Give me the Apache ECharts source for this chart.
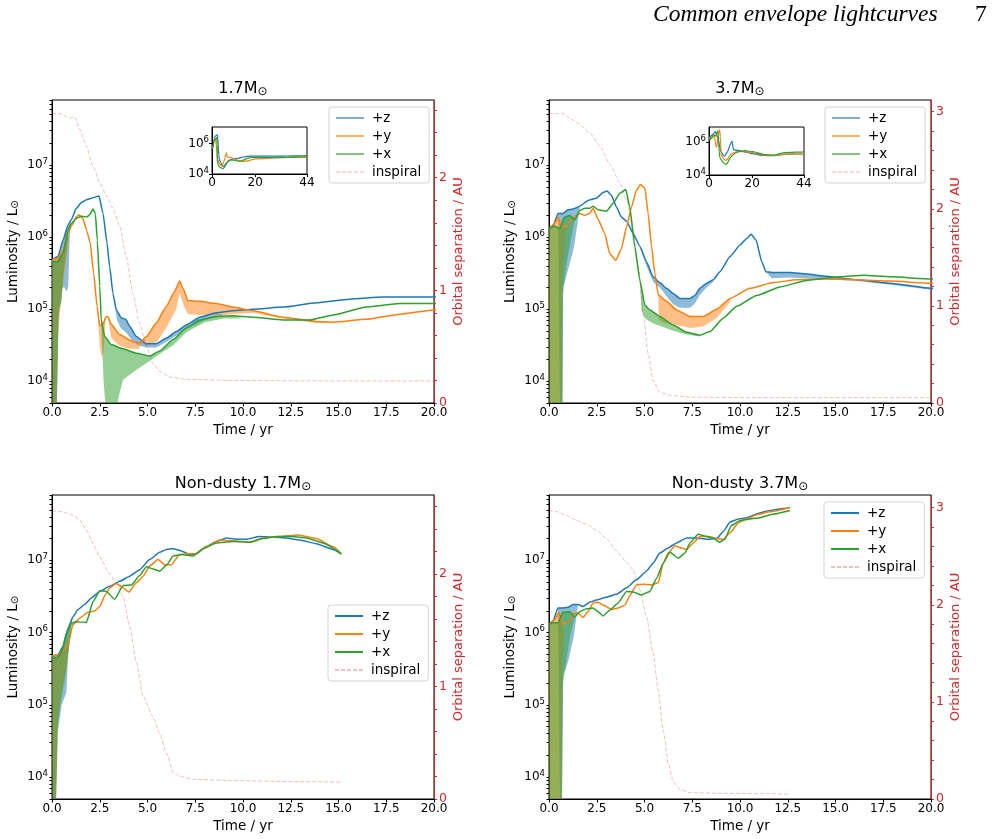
<!DOCTYPE html>
<html>
<head>
<meta charset="utf-8">
<title>Common envelope lightcurves</title>
<script src="https://cdn.jsdelivr.net/npm/echarts@6/dist/echarts.min.js"></script>
<style>body{margin:0;background:#fff;}</style>
</head>
<body>
<div id="main" style="width:993px;height:839px;"></div>
<script>
// all luminosity values are log10(L / Lsun), pairs are [time in yr, value]
// ---- dusty 1.7 Msun ----
var tlZ = [[0,5.685],[0.31,5.73],[0.58,5.96],[0.84,6.17],[1.01,6.24],[1.27,6.40],[1.54,6.48],[1.8,6.52],[2.06,6.54],[2.46,6.57],[2.67,6.33],[2.88,5.92],[3.02,5.59],[3.19,5.22],[3.37,4.99],[3.63,4.88],[3.86,4.86],[4.07,4.76],[4.42,4.62],[4.94,4.52],[5.46,4.52],[5.99,4.60],[6.51,4.69],[7.03,4.78],[7.73,4.89],[8.6,4.95],[9.48,4.98],[10.52,5.00],[12.09,5.03],[13.84,5.09],[15.58,5.14],[17.33,5.17],[20,5.17],[25,5.17],[30,5.17],[35,5.18],[40,5.19],[44,5.2]];
var tlY = [[0,5.685],[0.31,5.71],[0.58,5.82],[0.84,6.05],[1.01,6.15],[1.27,6.28],[1.41,6.31],[1.62,6.26],[1.83,6.08],[2.0,5.92],[2.18,5.50],[2.36,5.04],[2.5,4.77],[2.67,4.79],[2.81,4.89],[2.93,4.90],[3.1,4.79],[3.54,4.65],[4.24,4.55],[4.59,4.53],[4.94,4.62],[5.46,4.81],[5.99,5.04],[6.42,5.25],[6.68,5.39],[6.86,5.29],[7.12,5.12],[7.73,5.11],[8.6,5.08],[9.48,5.03],[10.52,4.98],[12.09,4.89],[13.84,4.83],[14.71,4.82],[16.46,4.86],[18.2,4.93],[20,4.99],[25,5.03],[30,5.05],[35,5.08],[40,5.1],[44,5.12]];
var tlX = [[0,5.66],[0.31,5.66],[0.58,5.78],[0.84,6.10],[1.01,6.19],[1.27,6.26],[1.54,6.29],[1.83,6.28],[1.97,6.31],[2.15,6.39],[2.27,6.33],[2.37,5.96],[2.5,5.32],[2.58,4.85],[2.76,4.62],[3.1,4.51],[3.72,4.45],[4.42,4.39],[5.11,4.35],[5.64,4.42],[6.34,4.58],[7.03,4.74],[7.73,4.85],[8.6,4.90],[9.48,4.91],[10.52,4.89],[12.09,4.85],[13.5,4.85],[14.71,4.92],[16.46,5.03],[18.2,5.08],[20,5.08],[25,5.08],[30,5.08],[35,5.1],[40,5.11],[44,5.12]];
// lower edges of the viewing-angle bands (upper edge is the curve itself)
var tlZlow = [[[0,5.685],[0.03,3.0],[0.2,3.0],[0.35,4.9],[0.55,5.3],[0.66,5.3],[0.75,5.25],[0.85,5.3],[0.95,6.2]],
              [[3.19,5.22],[3.4,4.85],[3.6,4.74],[3.9,4.67],[4.2,4.56],[4.5,4.50],[4.94,4.47],[5.46,4.47],[6.0,4.55],[7.0,4.72],[8.0,4.85],[9.0,4.92]]];
var tlYlow = [[[0,5.685],[0.03,3.0],[0.18,3.0],[0.3,4.6],[0.5,5.2],[0.7,5.6],[0.9,6.0]],
              [[2.36,5.04],[2.5,4.5],[2.6,4.33],[2.7,4.4],[2.81,4.89]],
              [[2.93,4.90],[3.1,4.6],[3.5,4.5],[4.0,4.45],[4.59,4.45]],
              [[4.59,4.53],[5.0,4.5],[5.5,4.55],[6.0,4.75],[6.5,5.0],[6.68,5.22],[6.9,5.05],[7.12,4.93],[8.0,4.92],[9.0,4.92],[10.5,4.95],[12.1,4.87],[13.84,4.81],[14.71,4.81]]];
var tlXlow = [[[0,5.66],[0.03,3.0],[0.2,3.0],[0.35,5.0],[0.5,5.1],[0.6,5.5],[0.8,5.9],[0.9,6.1]],
              [[2.5,5.32],[2.7,4.0],[2.85,3.5],[3.3,3.5],[3.5,3.8],[3.72,4.02],[4.42,4.16],[5.11,4.28],[5.64,4.38],[6.34,4.5],[7.03,4.68],[8.0,4.82],[9.0,4.87],[10.0,4.87]]];
var tlSep = [[0,2.57],[0.4,2.57],[0.66,2.55],[0.92,2.53],[1.19,2.54],[1.45,2.43],[1.8,2.28],[2.15,2.10],[2.5,1.96],[2.85,1.84],[3.19,1.73],[3.54,1.57],[3.89,1.30],[4.24,0.97],[4.59,0.71],[4.94,0.50],[5.29,0.35],[5.64,0.28],[6.16,0.23],[7.03,0.21],[9.48,0.20],[14.7,0.196],[20,0.196]];

// ---- dusty 3.7 Msun ----
var trZ = [[0,6.12],[0.21,6.15],[0.47,6.33],[0.73,6.33],[1.0,6.38],[1.26,6.39],[1.61,6.43],[2.05,6.51],[2.48,6.54],[2.83,6.62],[3.04,6.64],[3.27,6.58],[3.53,6.42],[3.79,6.28],[4.06,6.22],[4.41,6.05],[4.76,5.87],[5.1,5.66],[5.45,5.45],[5.8,5.37],[6.15,5.29],[6.5,5.22],[6.85,5.15],[7.38,5.15],[7.64,5.19],[7.9,5.29],[8.25,5.36],[8.6,5.41],[8.95,5.52],[9.48,5.73],[10.0,5.89],[10.35,5.98],[10.58,6.04],[10.84,5.96],[11.14,5.66],[11.36,5.52],[11.66,5.51],[12.62,5.51],[13.5,5.49],[14.37,5.46],[16.12,5.41],[17.87,5.36],[20,5.29],[25,5.18],[30,5.17],[35,5.25],[40,5.27],[44,5.27]];
var trY = [[0,6.12],[0.3,6.19],[0.47,6.28],[0.65,6.15],[0.91,6.15],[1.17,6.24],[1.43,6.30],[1.61,6.33],[1.87,6.30],[2.13,6.33],[2.31,6.40],[2.57,6.25],[2.92,6.05],[3.18,5.77],[3.5,5.68],[3.79,5.84],[4.06,6.14],[4.32,6.42],[4.58,6.65],[4.79,6.73],[5.02,6.68],[5.19,6.33],[5.37,5.87],[5.54,5.50],[5.72,5.20],[6.15,5.11],[6.68,4.99],[7.38,4.90],[8.08,4.90],[8.78,5.00],[9.48,5.15],[10.52,5.29],[11.75,5.37],[12.97,5.41],[14.37,5.42],[16.12,5.41],[17.87,5.39],[20,5.36],[25,5.22],[30,5.19],[35,5.26],[40,5.28],[44,5.28]];
var trX = [[0,6.12],[0.3,6.15],[0.56,6.12],[0.82,6.28],[1.08,6.30],[1.35,6.24],[1.61,6.37],[1.87,6.40],[2.13,6.40],[2.31,6.43],[2.57,6.38],[3.01,6.36],[3.36,6.47],[3.71,6.61],[4.02,6.66],[4.23,6.42],[4.49,5.87],[4.76,5.40],[5.02,5.06],[5.28,4.99],[5.8,4.90],[6.5,4.78],[7.2,4.68],[7.9,4.64],[8.43,4.69],[9.13,4.88],[9.83,5.04],[10.87,5.19],[12.1,5.31],[13.5,5.40],[15.24,5.45],[16.47,5.47],[17.87,5.45],[20,5.42],[25,5.25],[30,5.2],[35,5.35],[40,5.38],[44,5.4]];
var trZlow = [[[0.47,6.33],[0.6,3.0],[0.7,3.0],[0.75,5.3],[1.0,5.55],[1.3,5.85],[1.61,6.4]],
              [[4.76,5.87],[5.1,5.6],[5.45,5.38],[5.8,5.3],[6.15,5.18],[6.5,5.07],[6.85,5.02],[7.38,5.02],[7.64,5.08],[7.9,5.2],[8.25,5.3],[8.6,5.38]],
              [[11.36,5.52],[11.66,5.43],[12.62,5.44],[14.37,5.42],[16.12,5.39],[17.87,5.34],[20,5.27]]];
var trYlow = [[[0,6.12],[0.02,3.0],[0.65,3.0],[0.7,5.5],[0.91,6.1]],
              [[5.72,5.20],[5.75,4.85],[6.15,4.80],[6.68,4.78],[7.38,4.74],[8.08,4.76],[8.78,4.88],[9.48,5.1]]];
var trXlow = [[[0,6.12],[0.02,3.0],[0.68,3.0],[0.72,5.2],[0.9,5.6],[1.1,5.9],[1.35,6.24]],
              [[4.76,5.40],[4.85,4.98],[5.02,4.87],[5.5,4.80],[6.5,4.7],[7.2,4.65],[7.9,4.62]]];
var trSep = [[0,2.98],[0.38,2.98],[0.73,2.98],[1.17,2.92],[1.61,2.87],[2.13,2.78],[2.66,2.65],[3.18,2.46],[3.71,2.27],[4.06,2.09],[4.41,1.78],[4.67,1.41],[4.93,0.92],[5.19,0.51],[5.45,0.23],[5.8,0.11],[6.33,0.08],[7.38,0.06],[10.87,0.055],[20,0.055]];

// ---- non-dusty 1.7 Msun ----
var blZ = [[0,5.68],[0.31,5.69],[0.58,5.81],[0.84,6.06],[1.1,6.22],[1.36,6.32],[1.71,6.39],[2.06,6.48],[2.5,6.57],[3.02,6.64],[3.54,6.71],[4.07,6.78],[4.59,6.87],[5.11,7.01],[5.64,7.11],[5.99,7.15],[6.34,7.16],[6.77,7.13],[7.21,7.08],[7.56,7.09],[8.08,7.19],[8.6,7.26],[9.13,7.31],[9.65,7.29],[10.17,7.29],[10.87,7.33],[11.57,7.32],[12.27,7.31],[12.97,7.28],[13.84,7.23],[14.71,7.15],[15.15,7.09]];
var blY = [[0,5.68],[0.31,5.69],[0.58,5.74],[0.84,5.85],[1.1,6.11],[1.45,6.20],[1.88,6.28],[2.23,6.30],[2.5,6.36],[2.76,6.51],[3.02,6.62],[3.37,6.68],[3.72,6.62],[4.03,6.56],[4.42,6.69],[4.77,6.78],[5.11,6.92],[5.55,7.01],[5.9,6.94],[6.25,6.94],[6.68,7.08],[7.12,7.09],[7.56,7.09],[8.08,7.19],[8.78,7.28],[9.48,7.27],[10.35,7.25],[11.05,7.31],[11.92,7.33],[12.88,7.35],[13.84,7.30],[14.71,7.19],[15.15,7.09]];
var blX = [[0,5.66],[0.23,5.65],[0.49,5.71],[0.75,5.99],[1.01,6.13],[1.27,6.15],[1.8,6.14],[2.15,6.43],[2.5,6.58],[2.85,6.57],[3.28,6.46],[3.72,6.65],[4.16,6.66],[4.59,6.79],[4.94,6.91],[5.29,6.88],[5.64,6.85],[5.99,6.93],[6.34,7.06],[6.77,7.08],[7.38,7.06],[7.9,7.16],[8.6,7.24],[9.48,7.26],[10.35,7.25],[11.05,7.30],[11.75,7.33],[12.62,7.33],[13.32,7.31],[14.19,7.24],[15.15,7.09]];
var blZlow = [[[0,5.68],[0.03,3.0],[0.15,3.0],[0.3,4.6],[0.5,5.0],[0.75,5.17],[0.85,5.7],[1.0,6.1],[1.1,6.22]]];
var blYlow = [[[0,5.68],[0.03,3.0],[0.15,3.0],[0.3,4.8],[0.5,5.2],[0.75,5.5],[0.95,5.95]]];
var blXlow = [[[0,5.66],[0.03,3.0],[0.15,3.0],[0.3,4.7],[0.5,5.1],[0.7,5.4],[0.9,5.8],[1.1,6.13]]];
var blSep = [[0,2.56],[0.58,2.55],[1.1,2.52],[1.45,2.48],[1.8,2.39],[2.15,2.27],[2.5,2.15],[3.02,2.00],[3.37,1.92],[3.72,1.80],[4.07,1.53],[4.42,1.21],[4.77,0.91],[5.29,0.73],[5.64,0.58],[5.99,0.41],[6.34,0.24],[6.68,0.20],[7.38,0.175],[9.48,0.163],[12.97,0.154],[15.15,0.151]];

// ---- non-dusty 3.7 Msun ----
var brZ = [[0,6.11],[0.21,6.16],[0.47,6.34],[0.65,6.34],[1.0,6.35],[1.26,6.39],[1.52,6.39],[1.78,6.36],[2.13,6.42],[2.48,6.45],[3.01,6.49],[3.53,6.53],[4.06,6.62],[4.58,6.73],[5.1,6.85],[5.45,6.96],[5.8,7.10],[6.24,7.17],[6.68,7.24],[7.2,7.31],[7.73,7.31],[8.25,7.29],[8.78,7.30],[9.13,7.40],[9.48,7.53],[9.92,7.57],[10.35,7.59],[10.87,7.64],[11.4,7.68],[12.1,7.71],[12.62,7.73]];
var brY = [[0,6.11],[0.3,6.18],[0.52,6.28],[0.73,6.12],[1.0,6.13],[1.26,6.26],[1.52,6.27],[1.78,6.21],[2.04,6.29],[2.31,6.41],[2.57,6.42],[2.92,6.37],[3.27,6.32],[3.62,6.34],[3.97,6.38],[4.23,6.51],[4.58,6.66],[4.93,6.67],[5.37,6.66],[5.72,6.69],[5.98,6.96],[6.24,7.10],[6.59,7.20],[6.94,7.17],[7.2,7.15],[7.55,7.24],[7.9,7.33],[8.34,7.33],[8.78,7.30],[9.13,7.29],[9.48,7.38],[9.92,7.52],[10.35,7.57],[10.87,7.63],[11.57,7.67],[12.62,7.73]];
var brX = [[0,6.11],[0.21,6.14],[0.47,6.13],[0.73,6.28],[1.08,6.29],[1.35,6.22],[1.61,6.29],[1.96,6.33],[2.31,6.34],[2.57,6.29],[2.83,6.23],[3.18,6.31],[3.62,6.41],[4.06,6.57],[4.41,6.56],[4.84,6.52],[5.28,6.57],[5.63,6.75],[5.98,6.96],[6.33,7.11],[6.77,7.03],[7.12,7.10],[7.38,7.24],[7.81,7.36],[8.25,7.33],[8.6,7.31],[8.92,7.25],[9.2,7.29],[9.55,7.48],[10.0,7.55],[10.52,7.57],[11.05,7.59],[11.75,7.64],[12.62,7.69]];
var brZlow = [[[0.47,6.34],[0.6,3.0],[0.66,3.0],[0.75,5.4],[1.0,5.6],[1.3,5.95],[1.52,6.39]]];
var brYlow = [[[0,6.11],[0.02,3.0],[0.63,3.0],[0.7,5.6],[0.8,6.0]]];
var brXlow = [[[0,6.11],[0.02,3.0],[0.65,3.0],[0.72,5.3],[0.9,5.6],[1.1,5.95],[1.35,6.22]]];
var brSep = [[0,2.97],[0.38,2.96],[0.91,2.92],[1.43,2.87],[1.96,2.83],[2.48,2.77],[3.01,2.68],[3.53,2.56],[4.06,2.44],[4.41,2.36],[4.76,2.15],[5.1,1.88],[5.45,1.50],[5.72,1.12],[5.98,0.71],[6.24,0.37],[6.5,0.18],[6.85,0.10],[7.38,0.065],[9.13,0.058],[12.62,0.051]];

var panelTitles = ['1.7M{s|⊙}', '3.7M{s|⊙}', 'Non-dusty 1.7M{s|⊙}', 'Non-dusty 3.7M{s|⊙}'];
var xTicks = [0, 2.5, 5, 7.5, 10, 12.5, 15, 17.5, 20];
var lumTicks = [1e4, 1e5, 1e6, 1e7];
var insetXTicks = [0, 20, 44];
var insetLumTicks = [1e4, 1e6];
var legendNames = ['+z', '+y', '+x', 'inspiral'];

var BLUE = '#1f77b4', ORANGE = '#ff7f0e', GREEN = '#2ca02c', RED = '#d62728';
var BAND = ['rgba(31,119,180,0.5)', 'rgba(255,127,14,0.5)', 'rgba(44,160,44,0.5)'];
var FONT = 'DejaVu Sans';
var TICK_FS = 12, NAME_FS = 13.5;

var myChart = echarts.init(document.getElementById('main'));

function lum(arr) {
    return arr.map(function (p) { return [p[0], Math.pow(10, p[1])]; });
}
function bandPoly(line, low) {
    var t0 = low[0][0], t1 = low[low.length - 1][0];
    var up = line.filter(function (p) { return p[0] >= t0 && p[0] <= t1; });
    return lum(up.concat(low.slice().reverse()));
}
// minor ticks of the log axis at 1..9 x 10^n
var minorLog = [];
for (var e = 3; e <= 7; e++) {
    for (var m = 1; m <= 9; m++) {
        var v = m * Math.pow(10, e);
        if (v >= 5000 && v <= 8e7) minorLog.push(v);
    }
}
function supFmt(v) {
    return '10{p|' + Math.round(Math.log10(v)) + '}';
}
var supRich = {p: {fontSize: 8.5, fontFamily: FONT, color: '#000', verticalAlign: 'top', padding: [0, 0, 7, 0]}};

var panels = [
    {left: 52, top: 100, h: 303, sepMax: 2.69, sepTicks: [0, 1, 2], lines: [tlZ, tlY, tlX], lows: [tlZlow, tlYlow, tlXlow], sep: tlSep, leg: [329, 107], alpha: 0.6, inset: [212, 127, 95, 47, 1.2e7]},
    {left: 549, top: 100, h: 303, sepMax: 3.12, sepTicks: [0, 1, 2, 3], lines: [trZ, trY, trX], lows: [trZlow, trYlow, trXlow], sep: trSep, leg: [825, 107], alpha: 0.6, inset: [709, 127, 95, 48, 8e6]},
    {left: 52, top: 495, h: 304, sepMax: 2.7, sepTicks: [0, 1, 2], lines: [blZ, blY, blX], lows: [blZlow, blYlow, blXlow], sep: blSep, leg: [328, 605], alpha: 1},
    {left: 549, top: 495, h: 304, sepMax: 3.13, sepTicks: [0, 1, 2, 3], lines: [brZ, brY, brX], lows: [brZlow, brYlow, brXlow], sep: brSep, leg: [824, 502], alpha: 1}
];

var grids = [], xAxes = [], yAxes = [], series = [], legends = [], graphics = [];
var colors = [BLUE, ORANGE, GREEN];
var names = ['+z', '+y', '+x'];

panels.forEach(function (p, i) {
    grids.push({left: p.left, top: p.top, width: 382, height: p.h, show: true, borderColor: '#000', borderWidth: 1});
    xAxes.push({
        type: 'value', gridIndex: i, min: 0, max: 20,
        name: 'Time / yr', nameLocation: 'middle', nameGap: 20,
        nameTextStyle: {color: '#000', fontSize: NAME_FS, fontFamily: FONT},
        axisLine: {lineStyle: {color: '#000'}},
        axisTick: {customValues: xTicks, length: 3.5, lineStyle: {color: '#000'}},
        axisLabel: {customValues: xTicks, color: '#000', fontSize: TICK_FS, fontFamily: FONT, margin: 4,
            formatter: function (v) { return v.toFixed(1); }},
        splitLine: {show: false}
    });
    yAxes.push({
        type: 'log', gridIndex: i, min: 5000, max: 8e7, position: 'left',
        name: 'Luminosity / L{s|⊙}', nameLocation: 'middle', nameGap: 31, nameRotate: 90,
        nameTextStyle: {color: '#000', fontSize: NAME_FS, fontFamily: FONT,
            rich: {s: {fontSize: 10.5, fontFamily: FONT, color: '#000', verticalAlign: 'bottom', padding: [4, 0, 0, 0]}}},
        axisLine: {show: true, lineStyle: {color: '#000'}},
        axisTick: {customValues: minorLog, length: 2.5, lineStyle: {color: '#000'}},
        axisLabel: {customValues: lumTicks, color: '#000', fontSize: TICK_FS, fontFamily: FONT, margin: 4,
            formatter: supFmt, rich: supRich},
        splitLine: {show: false}
    });
    var sepMinor = [];
    for (var k = 0; k * 0.2 <= p.sepMax + 1e-9; k++) sepMinor.push(Math.round(k * 2) / 10);
    yAxes.push({
        type: 'value', gridIndex: i, min: 0, max: p.sepMax, position: 'right',
        name: 'Orbital separation / AU', nameLocation: 'middle', nameGap: 18, nameRotate: 90,
        nameTextStyle: {color: RED, fontSize: 13, fontFamily: FONT},
        axisLine: {show: true, lineStyle: {color: RED}},
        axisTick: {customValues: sepMinor, length: 3, lineStyle: {color: RED}},
        axisLabel: {customValues: p.sepTicks, color: RED, fontSize: 12.5, fontFamily: FONT, margin: 5},
        splitLine: {show: false}
    });

    // bands first, then curves
    p.lows.forEach(function (lows, s) {
        lows.forEach(function (low) {
            var poly = bandPoly(p.lines[s], low);
            series.push({
                type: 'custom', xAxisIndex: i, yAxisIndex: 2 * i, clip: true, silent: true, z: 1,
                data: poly,
                renderItem: function (params, api) {
                    if (params.dataIndex !== 0) return;
                    var pts = poly.map(function (q) { return api.coord(q); });
                    return {type: 'polygon', shape: {points: pts}, style: {fill: BAND[s]}};
                }
            });
        });
    });
    p.lines.forEach(function (line, s) {
        series.push({
            name: names[s], type: 'line', xAxisIndex: i, yAxisIndex: 2 * i, data: lum(line),
            symbol: 'none', clip: true, z: 3, color: colors[s], smooth: 0.15, smoothMonotone: 'x',
            lineStyle: {width: 1.5, color: colors[s]}
        });
    });
    series.push({
        name: 'inspiral', type: 'line', xAxisIndex: i, yAxisIndex: 2 * i + 1, data: p.sep,
        symbol: 'none', z: 2, color: 'rgba(214,39,40,0.3)', smooth: 0.2, smoothMonotone: 'x',
        lineStyle: {width: 1, type: [4, 2], color: 'rgba(214,39,40,0.3)'}
    });

    legends.push({
        orient: 'vertical', left: p.leg[0], top: p.leg[1], data: legendNames,
        itemWidth: 28, itemHeight: 16, itemGap: 4, padding: [4, 8, 4, 6],
        backgroundColor: 'rgba(255,255,255,0.8)', borderColor: '#d4d4d4', borderWidth: 1, borderRadius: 3,
        selectedMode: false, lineStyle: {opacity: p.alpha},
        itemStyle: {color: 'rgba(0,0,0,0)', borderColor: 'rgba(0,0,0,0)', borderWidth: 0},
        textStyle: {fontSize: NAME_FS, color: '#000', fontFamily: FONT, padding: [0, 0, 0, 3]}
    });

    graphics.push({
        type: 'text', x: p.left + 191, y: p.top - 11,
        style: {text: panelTitles[i], fill: '#000', fontSize: 16, fontFamily: FONT, align: 'center', verticalAlign: 'middle',
            rich: {s: {fontSize: 12, fontFamily: FONT, fill: '#000', verticalAlign: 'bottom', padding: [6, 0, 0, 0]}}}
    });
});

// insets of the two dusty runs, out to 44 yr
panels.slice(0, 2).forEach(function (p, j) {
    var gi = 4 + j, inn = p.inset;
    grids.push({left: inn[0], top: inn[1], width: inn[2], height: inn[3], show: true, borderColor: '#000', borderWidth: 1, backgroundColor: '#fff'});
    xAxes.push({
        type: 'value', gridIndex: gi, min: 0, max: 44,
        axisLine: {lineStyle: {color: '#000'}},
        axisTick: {customValues: insetXTicks, length: 3, lineStyle: {color: '#000'}},
        axisLabel: {customValues: insetXTicks, color: '#000', fontSize: TICK_FS, fontFamily: FONT, margin: 3},
        splitLine: {show: false}
    });
    yAxes.push({
        type: 'log', gridIndex: gi, min: 1e4, max: inn[4],
        axisLine: {show: true, lineStyle: {color: '#000'}},
        axisTick: {customValues: insetLumTicks, length: 3, lineStyle: {color: '#000'}},
        axisLabel: {customValues: insetLumTicks, color: '#000', fontSize: TICK_FS, fontFamily: FONT, margin: 3,
            formatter: supFmt, rich: supRich},
        splitLine: {show: false}
    });
    p.lines.forEach(function (line, s) {
        series.push({
            type: 'line', xAxisIndex: gi, yAxisIndex: yAxes.length - 1, data: lum(line),
            symbol: 'none', clip: true, z: 3, silent: true, smooth: 0.15, smoothMonotone: 'x',
            lineStyle: {width: 1.2, color: colors[s]}
        });
    });
});

graphics.push({
    type: 'text', x: 653, y: 15,
    style: {text: 'Common envelope lightcurves', fill: '#000', fontSize: 23.5, fontStyle: 'italic',
        fontFamily: 'Liberation Serif', align: 'left', verticalAlign: 'middle'}
});
graphics.push({
    type: 'text', x: 975, y: 15,
    style: {text: '7', fill: '#000', fontSize: 23.5, fontFamily: 'Liberation Serif', align: 'left', verticalAlign: 'middle'}
});

var option = {
    backgroundColor: '#fff',
    animation: false,
    grid: grids,
    xAxis: xAxes,
    yAxis: yAxes,
    legend: legends,
    graphic: graphics,
    series: series
};

myChart.setOption(option);
</script>
</body>
</html>
